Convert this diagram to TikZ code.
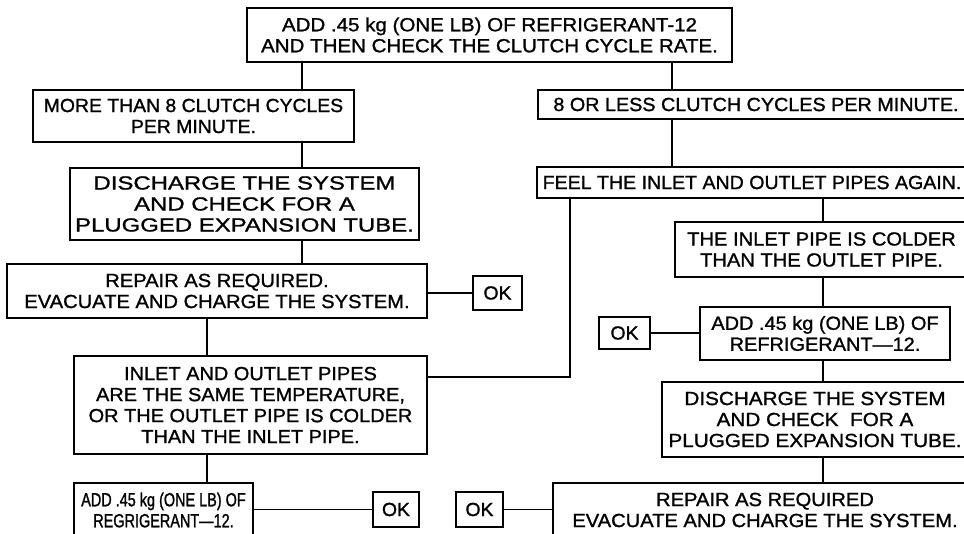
\documentclass[tikz,border=0pt]{standalone}
\usepackage{fontspec}
\setmainfont{Liberation Sans}
\begin{document}
\begin{tikzpicture}[x=1pt,y=-1pt,
  box/.style={draw, line width=1.4pt, align=center, inner sep=0pt},
  wid/.style={font=\fontsize{19}{21}\selectfont\addfontfeature{FakeStretch=#1,FakeBold=1.2}},
  link/.style={line width=1.2pt}]
\useasboundingbox (0,0) rectangle (964,534);
\node[box,wid=1.08,minimum width=485pt,minimum height=54pt] (b1) at (489.5,35) {ADD .45 kg (ONE LB) OF REFRIGERANT-12\\AND THEN CHECK THE CLUTCH CYCLE RATE.};
\node[box,wid=1.02,minimum width=321pt,minimum height=52pt] (b2) at (193.5,116) {MORE THAN 8 CLUTCH CYCLES\\PER MINUTE.};
\node[box,wid=1.26,minimum width=349pt,minimum height=72pt] (b3) at (244.5,204) {DISCHARGE THE SYSTEM\\AND CHECK FOR A\\PLUGGED EXPANSION TUBE.};
\node[box,wid=1.06,minimum width=420pt,minimum height=54pt] (b4) at (217,291) {REPAIR AS REQUIRED.\\EVACUATE AND CHARGE THE SYSTEM.};
\node[box,wid=1.02,minimum width=49pt,minimum height=34pt] (oka) at (497.5,293) {OK};
\node[box,wid=1.05,minimum width=353pt,minimum height=98pt] (b5) at (250.5,405) {INLET AND OUTLET PIPES\\ARE THE SAME TEMPERATURE,\\OR THE OUTLET PIPE IS COLDER\\THAN THE INLET PIPE.};
\node[box,wid=0.76,minimum width=179pt,minimum height=54pt] (b6) at (163.5,510) {ADD .45 kg (ONE LB) OF\\REGRIGERANT—12.};
\node[box,wid=1.02,minimum width=46pt,minimum height=35pt] (okb) at (396,509.5) {OK};
\node[box,wid=1.02,minimum width=47pt,minimum height=35pt] (okd) at (479.5,509.5) {OK};
\node[box,wid=1.04,minimum width=436pt,minimum height=29pt] (b7) at (756,104.5) {8 OR LESS CLUTCH CYCLES PER MINUTE.};
\node[box,wid=1.03,minimum width=430pt,minimum height=31pt] (b8) at (752,182.5) {FEEL THE INLET AND OUTLET PIPES AGAIN.};
\node[box,wid=1.06,minimum width=293pt,minimum height=55pt] (b9) at (821.5,249.5) {THE INLET PIPE IS COLDER\\THAN THE OUTLET PIPE.};
\node[box,wid=1.05,minimum width=250pt,minimum height=53pt] (b10) at (825,333.5) {ADD .45 kg (ONE LB) OF\\REFRIGERANT—12.};
\node[box,wid=1.02,minimum width=51pt,minimum height=32pt] (okc) at (624.5,333) {OK};
\node[box,wid=1.09,minimum width=306pt,minimum height=75pt] (b11) at (815,419.5) {DISCHARGE THE SYSTEM\\AND CHECK~ FOR A\\PLUGGED EXPANSION TUBE.};
\node[box,wid=1.06,minimum width=424pt,minimum height=54pt] (b12) at (765,510) {REPAIR AS REQUIRED\\EVACUATE AND CHARGE THE SYSTEM.};
\coordinate (xa) at (302,0);
\coordinate (xb) at (207,0);
\coordinate (xc) at (672,0);
\coordinate (xd) at (823,0);
\coordinate (turn) at (570,377);
\draw[link] (b1.south -| xa) -- (b2.north -| xa);
\draw[link] (b2.south -| xa) -- (b3.north -| xa);
\draw[link] (b3.south -| xa) -- (b4.north -| xa);
\draw[link] (b4.east |- oka.west) -- (oka.west);
\draw[link] (b4.south -| xb) -- (b5.north -| xb);
\draw[link] (b5.south -| xb) -- (b6.north -| xb);
\draw[link] (b6.east |- okb.west) -- (okb.west);
\draw[link] (b1.south -| xc) -- (b7.north -| xc);
\draw[link] (b7.south -| xc) -- (b8.north -| xc);
\draw[link] (b8.south -| turn) -- (turn) -- (turn -| b5.east);
\draw[link] (b8.south -| xd) -- (b9.north -| xd);
\draw[link] (b9.south -| xd) -- (b10.north -| xd);
\draw[link] (okc.east) -- (okc.east -| b10.west);
\draw[link] (b10.south -| xd) -- (b11.north -| xd);
\draw[link] (b11.south -| xd) -- (b12.north -| xd);
\draw[link] (okd.east) -- (okd.east -| b12.west);
\end{tikzpicture}
\end{document}
